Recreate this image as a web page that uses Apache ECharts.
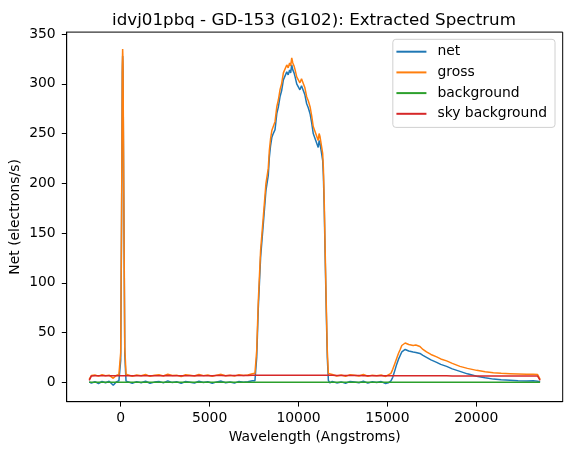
<!DOCTYPE html>
<html>
<head>
<meta charset="utf-8">
<script src="https://cdn.jsdelivr.net/npm/echarts@6/dist/echarts.min.js"></script>
<style>
  html, body { margin: 0; padding: 0; background: #fff; }
  #chart { width: 571px; height: 455px; }
</style>
</head>
<body>
<div id="chart"></div>
<script>
// wavelength grid (Angstroms), shared by net / gross / sky background
var wave = [
  -1770, -1650, -1450, -1250, -1050, -850, -650, -420, -250,
  -100, 0, 50, 90, 110, 130, 170, 230, 300,
  400, 650, 900, 1150, 1400, 1650, 1900, 2150, 2400, 2650, 2900, 3150, 3400, 3650,
  3900, 4150, 4400, 4650, 4900, 5150, 5400, 5650, 5900, 6150, 6400, 6650, 6900, 7150, 7400,
  7550, 7650, 7740, 7870, 8020, 8170, 8300, 8360, 8430, 8500, 8560, 8680, 8780, 8870,
  8960, 9050, 9150, 9240, 9340, 9420, 9500, 9560, 9620, 9680, 9750, 9810, 9900, 9990,
  10080, 10170, 10270, 10360, 10460, 10550, 10650, 10740, 10830, 10930, 11020, 11110,
  11160, 11210, 11290, 11360, 11400, 11450, 11500, 11560, 11620, 11680, 11760,
  11900, 12150, 12400, 12650, 12900, 13150, 13400, 13650, 13900, 14150, 14400, 14650, 14900,
  15050, 15200, 15300, 15420, 15520, 15620, 15720, 15810, 15900, 16000, 16090, 16200,
  16300, 16450, 16600, 16830, 17000, 17200, 17450, 17770, 18000, 18330, 18650, 19080,
  19500, 20020, 20500, 20960, 21400, 21900, 22350, 22830, 23200, 23450, 23530, 23590
];

var net = [
  0.5, -0.8, 0.6, -1.2, 0.8, -0.5, 1.0, -3.0, 0.4,
  1.5, 22, 162, 311, 328, 315, 192, 28, 1.2,
  0.3, -0.9, 0.7, -0.4, 1.1, -1.0, 0.2, 0.9, -0.6, 1.4, -0.3, 0.5, -1.1, 0.8,
  0.1, -0.7, 1.0, -0.2, 0.6, -0.9, 0.4, 1.2, -0.5, 0.3, -0.8, 0.9, 0.0, 0.6, 1.5,
  1.5, 25, 75, 126, 159, 193, 208, 226, 238, 246, 249, 254, 270, 277,
  287, 293, 304, 306, 312, 309, 314, 311, 319, 314, 311, 307, 300, 297,
  294, 298, 297, 289, 280, 276, 270, 261, 250, 245, 247, 236,
  243, 240, 231, 223, 208, 173, 126, 73, 25, 2, -0.5,
  0.8, -0.6, 0.4, -1.0, 0.9, 0.2, -0.5, 1.1, -0.8, 0.5, -0.3, 0.7, -1.2,
  -0.5, 1.5, 5, 12, 18, 23, 27, 30.5, 32, 33, 32.5, 31.5,
  31, 30.5, 30, 29, 27, 25, 22.5, 20, 18, 16, 13.5, 11,
  8.5, 6, 4.5, 3.2, 2.5, 2, 1.5, 1.2, 1.5, 1.0, 0.8, 0.5
];

var gross = [
  3, 6.8, 7.3, 6.2, 7.6, 6.5, 7.2, 4.0, 6.9,
  8, 30, 170, 318, 335, 322, 200, 35, 8,
  6.9, 6.1, 7.4, 6.6, 7.9, 6.0, 7.1, 7.6, 6.4, 8.2, 6.8, 7.2, 5.9, 7.6,
  7.0, 6.3, 7.8, 6.7, 7.4, 6.1, 7.2, 8.0, 6.5, 7.1, 6.2, 7.7, 6.9, 7.3, 8.5,
  9, 32, 82, 133, 166, 200, 215, 233, 245, 253, 256, 262, 277, 284,
  294, 300, 311, 313, 319, 316, 321, 318, 326, 321, 318, 314, 307, 304,
  301, 305, 304, 296, 287, 283, 277, 268, 257, 252, 254, 243,
  250, 247, 238, 230, 215, 180, 133, 80, 32, 9, 7,
  7.8, 6.4, 7.3, 6.0, 7.7, 7.0, 6.3, 7.9, 6.1, 7.2, 6.6, 7.4, 5.9,
  7.5, 9, 13, 19, 24, 29, 33, 37, 38, 39.5, 38.5, 38,
  37.5, 37, 37.5, 36, 33, 30.5, 28, 25.5, 23.5, 21.5, 19, 16,
  14, 12, 10.5, 9.5, 9, 8.7, 8.4, 8.0, 8.2, 7.8, 7.5, 3
];

var sky = [
  2, 6.4, 6.6, 6.5, 6.6, 6.5, 6.6, 6.6, 6.5,
  6.5, 6.6, 6.6, 6.6, 6.6, 6.6, 6.6, 6.6, 6.5,
  6.6, 6.5, 6.7, 6.6, 6.7, 6.6, 6.6, 6.7, 6.6, 6.8, 6.7, 6.7, 6.6, 6.7,
  6.7, 6.6, 6.8, 6.7, 6.7, 6.7, 6.8, 6.8, 6.7, 6.8, 6.8, 6.9, 6.9, 6.9, 7.0,
  7.0, 7.0, 7.1, 7.0, 7.1, 7.1, 7.0, 7.1, 7.1, 7.2, 7.1, 7.1, 7.2, 7.1,
  7.2, 7.2, 7.1, 7.2, 7.2, 7.2, 7.1, 7.2, 7.2, 7.2, 7.1, 7.2, 7.2, 7.1,
  7.2, 7.1, 7.1, 7.2, 7.1, 7.1, 7.1, 7.0, 7.1, 7.1, 7.0, 7.0,
  7.1, 7.0, 7.0, 7.0, 7.0, 7.0, 7.0, 7.0, 7.0, 7.0, 7.0,
  7.0, 6.9, 6.9, 6.9, 6.8, 6.8, 6.8, 6.7, 6.7, 6.7, 6.7, 6.6, 6.6,
  6.6, 6.6, 6.6, 6.6, 6.6, 6.6, 6.6, 6.6, 6.6, 6.6, 6.6, 6.6,
  6.6, 6.6, 6.6, 6.5, 6.5, 6.5, 6.5, 6.5, 6.5, 6.5, 6.4, 6.4,
  6.4, 6.4, 6.4, 6.3, 6.3, 6.3, 6.3, 6.3, 6.3, 6.3, 6.2, 2
];

// background is flat zero over the whole range
var bgWave = [-1770, 23590];
var background = [0, 0];

var xTicks = [0, 5000, 10000, 15000, 20000];
var yTicks = [0, 50, 100, 150, 200, 250, 300, 350];

function pairs(xs, ys) {
  return xs.map(function (x, i) { return [x, ys[i]]; });
}

var font = 'DejaVu Sans';
var chart = echarts.init(document.getElementById('chart'));

var option = {
  animation: false,
  backgroundColor: '#fff',
  title: {
    text: 'idvj01pbq - GD-153 (G102): Extracted Spectrum',
    left: 309,
    top: 7,
    textAlign: 'center',
    textStyle: { fontFamily: font, fontSize: 16.7, fontWeight: 'normal', color: '#000' }
  },
  legend: {
    orient: 'vertical',
    right: 16,
    top: 39.3,
    padding: [5.4, 8, 6.6, 3.6],
    borderColor: '#d0d0d0',
    borderWidth: 1,
    borderRadius: 3,
    itemWidth: 30,
    itemHeight: 2,
    itemGap: 6.7,
    icon: 'rect',
    textStyle: { fontFamily: font, fontSize: 13.9, lineHeight: 14, color: '#000', padding: [0, 0, 0, 6] },
    data: ['net', 'gross', 'background', 'sky background']
  },
  grid: {
    left: 66.7,
    right: 8.3,
    top: 32.1,
    bottom: 53.3,
    outerBoundsMode: 'none',
    containLabel: false,
    show: true,
    borderColor: '#000',
    borderWidth: 1,
    backgroundColor: 'transparent'
  },
  xAxis: {
    type: 'value',
    min: -3037,
    max: 24860,
    name: 'Wavelength (Angstroms)',
    nameLocation: 'middle',
    nameGap: 29,
    nameMoveOverlap: false,
    nameTextStyle: { fontFamily: font, fontSize: 13.9, color: '#000' },
    axisLine: { show: true, onZero: false, lineStyle: { color: '#000', width: 1 } },
    axisTick: { show: true, length: 4.9, lineStyle: { color: '#000' }, customValues: xTicks },
    axisLabel: {
      margin: 9.5, fontFamily: font, fontSize: 13.9, color: '#000', customValues: xTicks,
      formatter: function (v) { return String(v); }
    },
    splitLine: { show: false }
  },
  yAxis: {
    type: 'value',
    min: -19.5,
    max: 352,
    name: 'Net (electrons/s)',
    nameLocation: 'middle',
    nameRotate: 90,
    nameGap: 44,
    nameMoveOverlap: false,
    nameTextStyle: { fontFamily: font, fontSize: 13.9, color: '#000' },
    axisLine: { show: true, onZero: false, lineStyle: { color: '#000', width: 1 } },
    axisTick: { show: true, length: 4.9, lineStyle: { color: '#000' }, customValues: yTicks },
    axisLabel: {
      margin: 11, fontFamily: font, fontSize: 13.9, color: '#000', customValues: yTicks,
      formatter: function (v) { return String(v); }
    },
    splitLine: { show: false }
  },
  series: [
    {
      name: 'net', type: 'line', showSymbol: false, color: '#1f77b4',
      lineStyle: { width: 1.5 }, data: pairs(wave, net)
    },
    {
      name: 'gross', type: 'line', showSymbol: false, color: '#ff7f0e',
      lineStyle: { width: 1.5 }, data: pairs(wave, gross)
    },
    {
      name: 'background', type: 'line', showSymbol: false, color: '#2ca02c',
      lineStyle: { width: 1.5 }, data: pairs(bgWave, background)
    },
    {
      name: 'sky background', type: 'line', showSymbol: false, color: '#d62728',
      lineStyle: { width: 1.5 }, data: pairs(wave, sky)
    }
  ]
};

chart.setOption(option);
</script>
</body>
</html>
